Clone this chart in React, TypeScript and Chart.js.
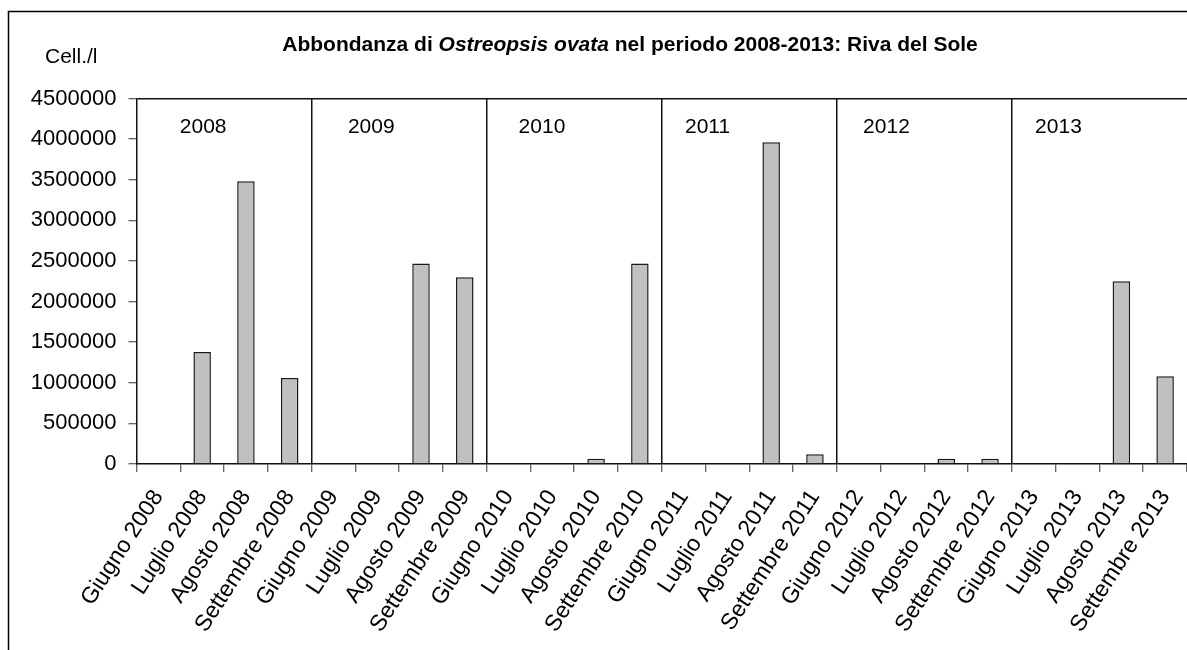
import React, { useEffect, useRef } from 'react';
import { Chart, registerables } from 'chart.js';

Chart.register(...registerables);

const categories = [
  'Giugno 2008', 'Luglio 2008', 'Agosto 2008', 'Settembre 2008',
  'Giugno 2009', 'Luglio 2009', 'Agosto 2009', 'Settembre 2009',
  'Giugno 2010', 'Luglio 2010', 'Agosto 2010', 'Settembre 2010',
  'Giugno 2011', 'Luglio 2011', 'Agosto 2011', 'Settembre 2011',
  'Giugno 2012', 'Luglio 2012', 'Agosto 2012', 'Settembre 2012',
  'Giugno 2013', 'Luglio 2013', 'Agosto 2013', 'Settembre 2013',
];

const values = [
  0, 1380000, 3480000, 1060000,
  0, 0, 2470000, 2300000,
  0, 0, 65000, 2470000,
  0, 0, 3960000, 120000,
  0, 0, 65000, 65000,
  0, 0, 2250000, 1080000,
];

const yearLabels = ['2008', '2009', '2010', '2011', '2012', '2013'];
// where each year label starts, in category units
const yearLabelCategoryPos = [0.49, 4.33, 8.23, 12.03, 16.1, 20.03];
const yearLabelValue = 4080000;

const yMin = 0;
const yMax = 4500000;
const yStep = 500000;

const titleParts = [
  { text: 'Abbondanza di ', italic: false },
  { text: 'Ostreopsis ovata', italic: true },
  { text: ' nel periodo 2008-2013: Riva del Sole', italic: false },
];
const unitLabel = 'Cell./l';

const FONT = '"Liberation Sans", Arial, sans-serif';

const decorations = {
  id: 'decorations',
  afterDraw(chart: any) {
    const ctx = chart.ctx as CanvasRenderingContext2D;
    const xs = chart.scales.x;
    const ys = chart.scales.y;
    ctx.save();
    // outer frame
    ctx.strokeStyle = '#000';
    ctx.lineWidth = 1.5;
    ctx.beginPath();
    ctx.moveTo(8.5, chart.height);
    ctx.lineTo(8.5, 11.5);
    ctx.lineTo(chart.width, 11.5);
    ctx.stroke();

    // title
    ctx.fillStyle = '#000';
    ctx.textBaseline = 'alphabetic';
    ctx.textAlign = 'left';
    let total = 0;
    const widths: number[] = [];
    titleParts.forEach((p) => {
      ctx.font = `${p.italic ? 'italic ' : ''}bold 21px ${FONT}`;
      const w = ctx.measureText(p.text).width;
      widths.push(w);
      total += w;
    });
    let cx = 630 - total / 2;
    titleParts.forEach((p, i) => {
      ctx.font = `${p.italic ? 'italic ' : ''}bold 21px ${FONT}`;
      ctx.fillText(p.text, cx, 51);
      cx += widths[i];
    });

    // unit label
    ctx.font = `21px ${FONT}`;
    ctx.fillText(unitLabel, 45, 63);

    // year labels
    const yy = ys.getPixelForValue(yearLabelValue);
    yearLabels.forEach((l, i) => {
      ctx.fillText(l, xs.getPixelForValue(yearLabelCategoryPos[i]), yy);
    });
    ctx.restore();
  },
};

export default function App() {
  const ref = useRef<HTMLCanvasElement | null>(null);

  useEffect(() => {
    if (!ref.current) return;
    const chart = new Chart(ref.current, {
      type: 'bar',
      data: {
        labels: categories,
        datasets: [
          {
            data: values,
            backgroundColor: '#c0c0c0',
            borderColor: '#1a1a1a',
            borderWidth: 1.5,
            categoryPercentage: 1,
            barPercentage: 0.4,
          },
        ],
      },
      options: {
        animation: false,
        responsive: false,
        devicePixelRatio: 1,
        layout: { padding: { top: 98.5, left: 0, right: 0, bottom: 0 } },
        plugins: {
          legend: { display: false },
          title: { display: false },
          tooltip: { enabled: false },
        },
        scales: {
          x: {
            offset: true,
            grid: {
              offset: true,
              drawOnChartArea: true,
              color: (c: any) =>
                c.index !== undefined && c.index > 0 && c.index % 4 === 0 ? '#111' : 'rgba(0,0,0,0)',
              lineWidth: 1.5,
              tickLength: 8,
              tickColor: '#333',
              tickWidth: 1,
            },
            border: { display: true, color: '#111', width: 1.5 },
            ticks: {
              autoSkip: false,
              maxRotation: 57,
              minRotation: 57,
              labelOffset: 0,
              padding: 13,
              color: '#000',
              font: { family: FONT, size: 23 },
            },
            afterFit: (s: any) => {
              s.height = 186;
              s.paddingLeft = 0;
              s.paddingRight = 0;
            },
          },
          y: {
            min: yMin,
            max: yMax,
            grid: {
              drawOnChartArea: true,
              color: (c: any) => (c.tick && c.tick.value === yMax ? '#111' : 'rgba(0,0,0,0)'),
              lineWidth: 1.5,
              tickLength: 8,
              tickColor: '#333',
              tickWidth: 1,
            },
            border: { display: true, color: '#111', width: 1.5 },
            ticks: {
              stepSize: yStep,
              padding: 12,
              color: '#000',
              font: { family: FONT, size: 22 },
              callback: (v: any) => String(v),
            },
            afterFit: (s: any) => {
              s.width = 136.5;
              s.paddingTop = 0;
              s.paddingBottom = 0;
            },
          },
        },
      },
      plugins: [decorations],
    });
    return () => chart.destroy();
  }, []);

  return (
    <div style={{ position: 'fixed', left: 0, top: 0, width: 1187, height: 650, background: '#fff' }}>
      <canvas ref={ref} width={1187} height={650} />
    </div>
  );
}
